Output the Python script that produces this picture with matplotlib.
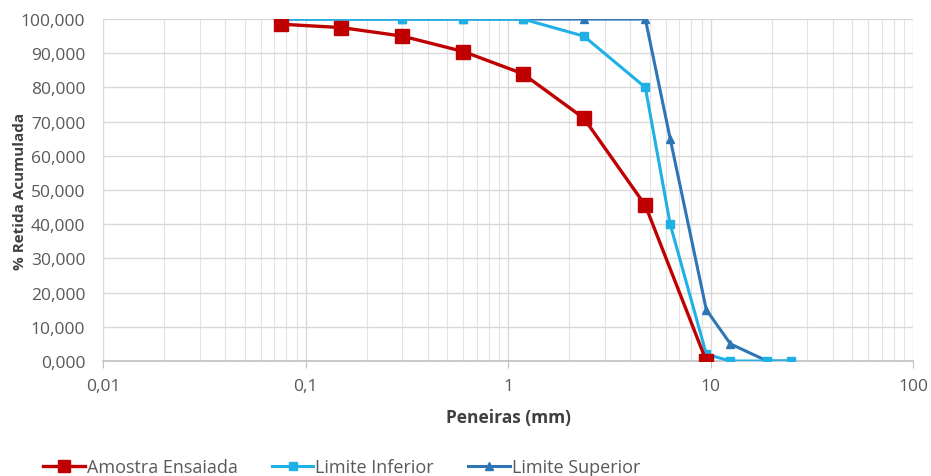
import matplotlib
matplotlib.use("Agg")
import matplotlib.pyplot as plt
from matplotlib.ticker import FuncFormatter, LogLocator, FixedLocator

plt.rcParams['font.family'] = ['Open Sans', 'DejaVu Sans']

# sieve openings (mm) and % retained
amostra_x = [0.075, 0.15, 0.3, 0.6, 1.18, 2.36, 4.75, 9.5]
amostra_y = [98.5, 97.5, 95.0, 90.5, 84.0, 71.0, 45.5, 0.0]

inferior_x = [0.075, 0.15, 0.3, 0.6, 1.18, 2.36, 4.75, 6.3, 9.5, 12.5, 19, 25]
inferior_y = [100, 100, 100, 100, 100, 95, 80, 40, 2, 0, 0, 0]

superior_x = [0.075, 0.15, 0.3, 0.6, 1.18, 2.36, 4.75, 6.3, 9.5, 12.5, 19, 25]
superior_y = [100, 100, 100, 100, 100, 100, 100, 65, 15, 5, 0, 0]

y_ticks = list(range(0, 101, 10))
x_ticks = [0.01, 0.1, 1, 10, 100]
x_labels = ["0,01", "0,1", "1", "10", "100"]

grey = "#595959"

fig = plt.figure(figsize=(9.31, 4.77), dpi=100)
ax = fig.add_axes([0.111, 0.241, 0.870, 0.717])

ax.plot(superior_x, superior_y, color="#2E75B6", lw=2.2, marker="^", ms=6,
        label="Limite Superior", zorder=3)
ax.plot(inferior_x, inferior_y, color="#1FB1E6", lw=2.2, marker="s", ms=6,
        label="Limite Inferior", zorder=4)
ax.plot(amostra_x, amostra_y, color="#C00000", lw=2.4, marker="s", ms=10,
        label="Amostra Ensaiada", zorder=5)

ax.set_xscale("log")
ax.set_xlim(0.01, 100)
ax.set_ylim(0, 100)
ax.xaxis.set_major_locator(FixedLocator(x_ticks))
ax.set_xticklabels(x_labels)
ax.xaxis.set_minor_locator(LogLocator(base=10, subs=range(2, 10)))
ax.xaxis.set_minor_formatter(FuncFormatter(lambda v, p: ""))
ax.set_yticks(y_ticks)
ax.yaxis.set_major_formatter(FuncFormatter(lambda v, p: f"{v:.3f}".replace(".", ",")))

ax.grid(which="major", color="#D9D9D9", lw=1)
ax.grid(which="minor", axis="x", color="#E3E3E3", lw=0.8)
ax.set_axisbelow(True)

for s in ["top", "right", "left"]:
    ax.spines[s].set_visible(False)
ax.spines["bottom"].set_color("#BFBFBF")
ax.spines["bottom"].set_linewidth(1.2)
ax.tick_params(axis="y", length=0, labelsize=12.5, labelcolor=grey, pad=13)
ax.tick_params(axis="x", which="major", length=5, color="#BFBFBF",
               labelsize=12.5, labelcolor=grey, pad=7)
ax.tick_params(axis="x", which="minor", length=0)

ax.set_xlabel("Peneiras (mm)", fontsize=12.5, fontweight="bold", color="#404040", labelpad=10)
ax.set_ylabel("% Retida Acumulada", fontsize=11, fontweight="bold", color="#404040")
ax.yaxis.set_label_coords(-0.094, 0.5)

handles, labels = ax.get_legend_handles_labels()
order = [2, 1, 0]
fig.legend([handles[i] for i in order], [labels[i] for i in order],
           loc="center", bbox_to_anchor=(0.367, 0.019), ncol=3, frameon=False,
           fontsize=13, labelcolor=grey, handlelength=2.3, handletextpad=0.1,
           columnspacing=1.9, markerscale=0.85)

fig.savefig("out.png", dpi=100)
